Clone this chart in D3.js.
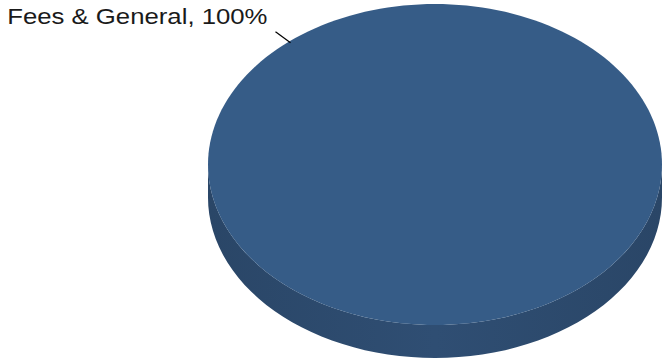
<!DOCTYPE html>
<html>
<head>
<meta charset="utf-8">
<script src="https://cdn.jsdelivr.net/npm/d3@7"></script>
<style>
  body { margin: 0; background: #fff; }
  text { font-family: "Liberation Sans", Arial, sans-serif; }
</style>
</head>
<body>
<script>
var categories = ["Fees & General"];
var values = [100];
var colors = ["#365c87"];
var sideColors = ["#2f4e73"];

var WIDTH = 665, HEIGHT = 360;
var cx = 435, cy = 164.5, rx = 227, ry = 160.5, depth = 33;

var svg = d3.select("body").append("svg")
    .attr("width", WIDTH)
    .attr("height", HEIGHT);

var total = d3.sum(values);
var pie = d3.pie().sort(null).value(function(d){ return d; });
var arcs = pie(values);

// project a pie angle onto the tilted ellipse
var px = function(a){ return cx + rx * Math.sin(a); };
var py = function(a, dz){ return cy - ry * Math.cos(a) + (dz || 0); };

var sidePath = function(a0, a1){
  // only the front half (pi/2 .. 3pi/2) shows its side wall
  var s = Math.max(a0, Math.PI / 2), e = Math.min(a1, 3 * Math.PI / 2);
  if (e <= s) return null;
  var pts = d3.range(0, 61).map(function(i){ return s + (e - s) * i / 60; });
  var top = pts.map(function(a){ return [px(a), py(a)]; });
  var bot = pts.slice().reverse().map(function(a){ return [px(a), py(a, depth)]; });
  return "M" + top.concat(bot).join("L") + "Z";
};

var topPath = function(a0, a1){
  var pts = d3.range(0, 181).map(function(i){ return a0 + (a1 - a0) * i / 180; });
  var ring = pts.map(function(a){ return [px(a), py(a)]; });
  if (a1 - a0 < 2 * Math.PI - 1e-6) ring.unshift([cx, cy]);
  return "M" + ring.join("L") + "Z";
};

var defs = svg.append("defs");
var grad = defs.append("linearGradient").attr("id", "sideGrad")
    .attr("x1", "0%").attr("x2", "100%").attr("y1", "0%").attr("y2", "0%");
grad.append("stop").attr("offset", "0%").attr("stop-color", "#2a4667");
grad.append("stop").attr("offset", "50%").attr("stop-color", sideColors[0]);
grad.append("stop").attr("offset", "100%").attr("stop-color", "#2a4667");

svg.selectAll("path.side").data(arcs).enter().append("path")
    .attr("class", "side")
    .attr("d", function(d){ return sidePath(d.startAngle, d.endAngle); })
    .attr("fill", "url(#sideGrad)");

svg.selectAll("path.top").data(arcs).enter().append("path")
    .attr("class", "top")
    .attr("d", function(d){ return topPath(d.startAngle, d.endAngle); })
    .attr("fill", function(d, i){ return colors[i]; });

// leader line + label
var labelAngle = -0.69;
var ex = px(labelAngle), ey = py(labelAngle);
svg.append("line")
    .attr("x1", ex).attr("y1", ey + 2)
    .attr("x2", ex - 15).attr("y2", ey - 9)
    .attr("stroke", "#000").attr("stroke-width", 1.2);

// the original label is a bit stretched horizontally
svg.append("text")
    .attr("transform", "translate(" + (ex - 23) + "," + (ey - 17) + ") scale(1.17,1)")
    .attr("text-anchor", "end")
    .attr("font-size", 22)
    .attr("fill", "#1a1a1a")
    .text(categories[0] + ", " + Math.round(values[0] / total * 100) + "%");
</script>
</body>
</html>
